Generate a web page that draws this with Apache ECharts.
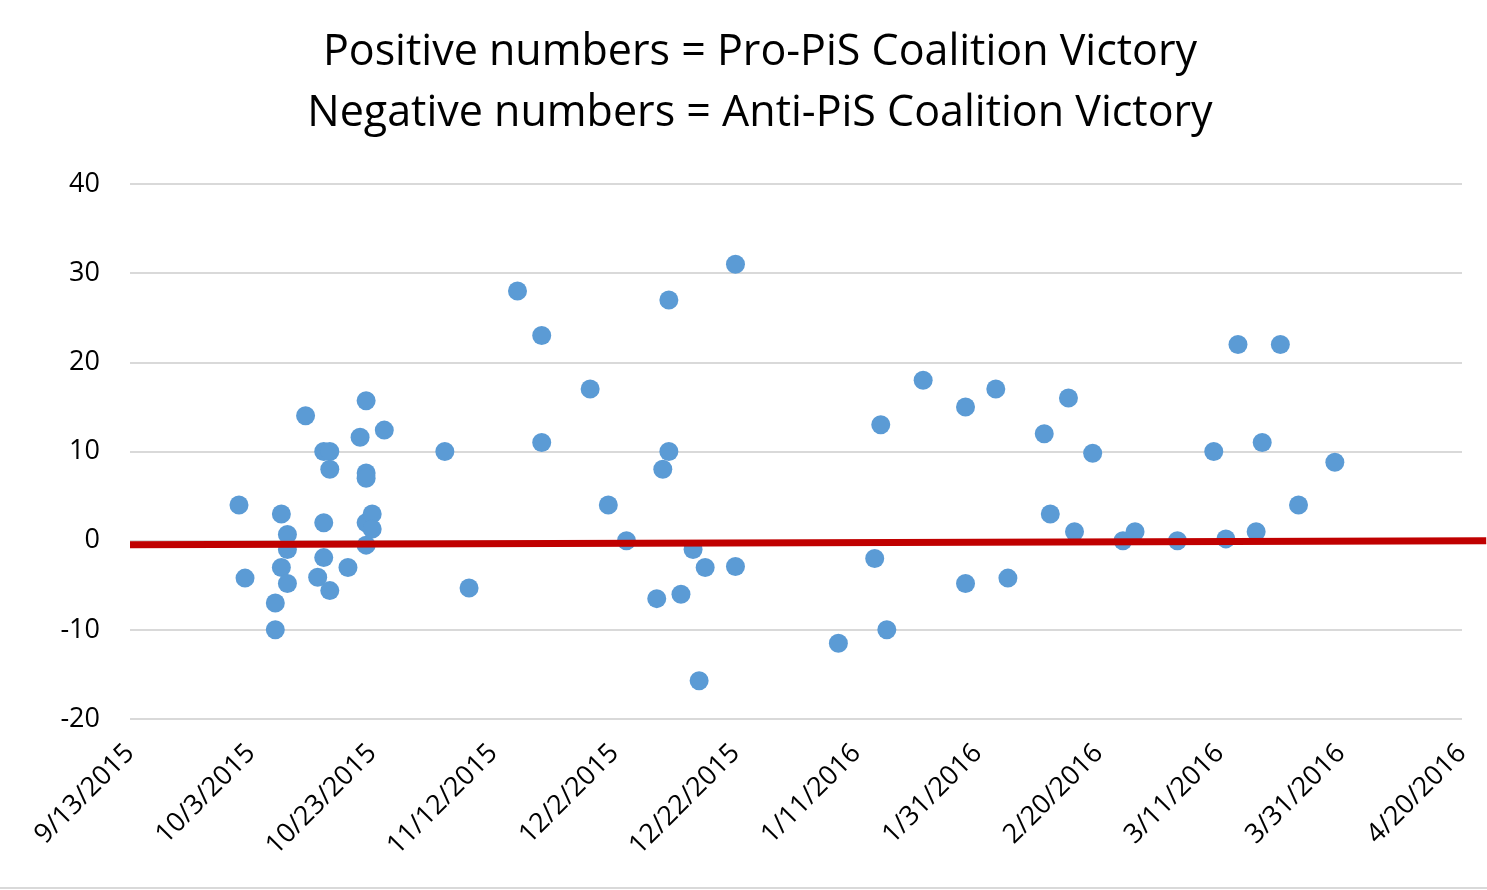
<!DOCTYPE html>
<html>
<head>
<meta charset="utf-8">
<script src="https://cdn.jsdelivr.net/npm/echarts@6/dist/echarts.min.js"></script>
<style>
html,body{margin:0;padding:0;background:#fff;}
#chart{width:1487px;height:890px;}
</style>
</head>
<body>
<div id="chart"></div>
<script>
// Dates (M/D/YYYY) and values of each point
const pointDates = [
  '10/1/2015','10/2/2015','10/7/2015','10/7/2015','10/8/2015','10/8/2015',
  '10/9/2015','10/9/2015','10/9/2015','10/12/2015','10/14/2015',
  '10/15/2015','10/15/2015','10/15/2015','10/16/2015','10/16/2015','10/16/2015',
  '10/19/2015','10/21/2015','10/22/2015','10/22/2015','10/22/2015','10/22/2015','10/22/2015',
  '10/23/2015','10/23/2015','10/25/2015',
  '11/4/2015','11/8/2015','11/16/2015','11/20/2015','11/20/2015','11/28/2015',
  '12/1/2015','12/4/2015','12/9/2015','12/10/2015','12/11/2015','12/11/2015',
  '12/13/2015','12/15/2015','12/16/2015','12/17/2015','12/22/2015','12/22/2015',
  '1/8/2016','1/14/2016','1/15/2016','1/16/2016','1/22/2016','1/29/2016','1/29/2016',
  '2/3/2016','2/5/2016','2/11/2016','2/12/2016','2/15/2016','2/16/2016','2/19/2016',
  '2/24/2016','2/26/2016','3/4/2016','3/10/2016','3/12/2016','3/14/2016',
  '3/17/2016','3/18/2016','3/21/2016','3/24/2016','3/30/2016'
];
const pointValues = [
  4,-4.2,-7,-10,3,-3,
  0.7,-1,-4.8,14,-4.1,
  10,2,-1.9,10,8,-5.6,
  -3,11.6,15.7,7.6,7,2,-0.5,
  3,1.3,12.4,
  10,-5.3,28,23,11,17,
  4,0,-6.5,8,27,10,
  -6,-1,-15.7,-3,31,-2.9,
  -11.5,-2,13,-10,18,15,-4.8,
  17,-4.2,12,3,16,1,9.8,
  0,1,0,10,0.2,22,
  1,11,22,4,8.8
];
// Trend line end points (the line runs a little past the last tick)
const trendDates = ['9/13/2015','4/24/2016'];
const trendValues = [-0.45, 0.0];

const xMin = '9/13/2015', xMax = '4/20/2016';
const xStepDays = 20;
const yMin = -20, yMax = 40, yStep = 10;

const titleLines = ['Positive numbers = Pro-PiS Coalition Victory','Negative numbers = Anti-PiS Coalition Victory'];

function toSerial(s){
  const p = s.split('/').map(Number);
  return Date.UTC(p[2], p[0]-1, p[1]) / 86400000 + 25569;
}
function fromSerial(v){
  const d = new Date((v - 25569) * 86400000);
  return (d.getUTCMonth()+1) + '/' + d.getUTCDate() + '/' + d.getUTCFullYear();
}

const FONT = '"Open Sans", "Noto Sans", sans-serif';

const chart = echarts.init(document.getElementById('chart'), null, {renderer:'canvas'});
const baseGraphic = [
  {id:'t1', type:'text', x:760, y:53, style:{text:titleLines[0], fontFamily:FONT, fontSize:43, fill:'#000', textAlign:'center', textVerticalAlign:'middle'}},
  {id:'t2', type:'text', x:760, y:114, style:{text:titleLines[1], fontFamily:FONT, fontSize:43, fill:'#000', textAlign:'center', textVerticalAlign:'middle'}},
  {id:'border', type:'line', shape:{x1:0,y1:888,x2:1487,y2:888}, style:{stroke:'#D9D9D9', lineWidth:2}}
];
chart.setOption({
  animation:false,
  backgroundColor:'#ffffff',
  grid:{left:130, right:25, top:184, bottom:171, containLabel:false},
  graphic:baseGraphic,
  xAxis:{
    type:'value', min:toSerial(xMin), max:toSerial(xMax), interval:xStepDays,
    axisLine:{show:false, onZero:false}, axisTick:{show:false}, splitLine:{show:false},
    axisLabel:{rotate:45, margin:30, fontFamily:FONT, fontSize:27, color:'#000', formatter:fromSerial}
  },
  yAxis:{
    type:'value', min:yMin, max:yMax, interval:yStep,
    axisLine:{show:false}, axisTick:{show:false},
    splitLine:{lineStyle:{color:'#D9D9D9', width:2}},
    axisLabel:{margin:30, fontFamily:FONT, fontSize:27, color:'#000'}
  },
  series:[
    {type:'scatter', symbol:'circle', symbolSize:19, itemStyle:{color:'#5B9BD5', opacity:1},
     data:pointDates.map((d,i)=>[toSerial(d), pointValues[i]]), z:2}
  ]
});
// Trend line drawn through the chart's own scales
const p1 = chart.convertToPixel({gridIndex:0}, [toSerial(trendDates[0]), trendValues[0]]);
const p2 = chart.convertToPixel({gridIndex:0}, [toSerial(trendDates[1]), trendValues[1]]);
chart.setOption({graphic: baseGraphic.concat([
  {id:'trend', type:'line', z:10, shape:{x1:p1[0], y1:p1[1], x2:p2[0], y2:p2[1]}, style:{stroke:'#C00000', lineWidth:7}}
])});
</script>
</body>
</html>
